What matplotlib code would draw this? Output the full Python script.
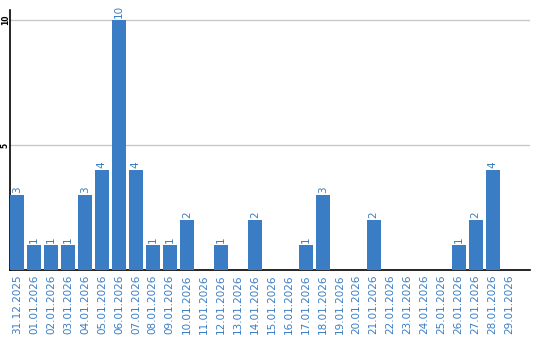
import matplotlib
matplotlib.use("Agg")
import matplotlib.pyplot as plt
import numpy as np

# dates and daily counts
dates = ['31.12.2025', '01.01.2026', '02.01.2026', '03.01.2026', '04.01.2026',
         '05.01.2026', '06.01.2026', '07.01.2026', '08.01.2026', '09.01.2026',
         '10.01.2026', '11.01.2026', '12.01.2026', '13.01.2026', '14.01.2026',
         '15.01.2026', '16.01.2026', '17.01.2026', '18.01.2026', '19.01.2026',
         '20.01.2026', '21.01.2026', '22.01.2026', '23.01.2026', '24.01.2026',
         '25.01.2026', '26.01.2026', '27.01.2026', '28.01.2026', '29.01.2026']
counts = [3, 1, 1, 1, 3, 4, 10, 4, 1, 1, 2, 0, 1, 0, 2,
          0, 0, 1, 3, 0, 0, 2, 0, 0, 0, 0, 1, 2, 4, 0]
yticks = [5, 10]

blue = '#3a7dc4'

fig = plt.figure(figsize=(5.4, 3.4), dpi=100)
ax = fig.add_axes([10/540, 1 - 270/340, 520/540, 260/340])

x = np.arange(len(dates))
bars = ax.bar(x, counts, width=0.82, color=blue, zorder=3)

for xi, v in zip(x, counts):
    if v > 0:
        ax.text(xi, v + 0.08, str(v), rotation=90, ha='center', va='bottom',
                color=blue, fontsize=7.5)

ax.set_xlim(-0.41, 30.2)
ax.set_ylim(0, 10.4)
ax.set_yticks(yticks)
ax.set_yticklabels([str(t) for t in yticks], rotation=90, va='center',
                   ha='center', fontsize=5.5, fontweight='bold')
ax.tick_params(axis='y', length=0, pad=3.4)
ax.set_xticks(x)
ax.set_xticklabels(dates, rotation=90, color=blue, fontsize=7.5)
ax.tick_params(axis='x', length=0, pad=3)

ax.yaxis.grid(True, color='#c8c8c8', linewidth=1, zorder=0)
for s in ['top', 'right']:
    ax.spines[s].set_visible(False)
ax.spines['left'].set_linewidth(1.2)
ax.spines['bottom'].set_linewidth(1.2)

plt.savefig('out.png', dpi=100)
